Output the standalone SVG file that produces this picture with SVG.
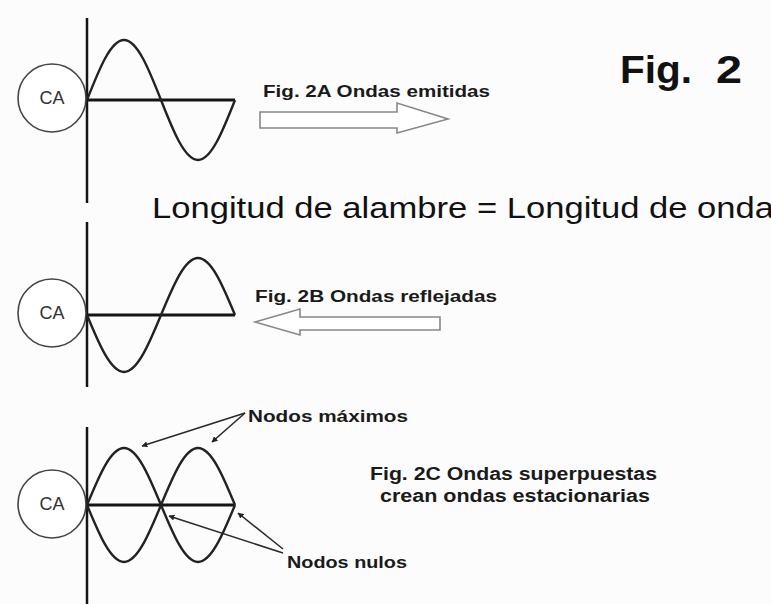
<svg xmlns="http://www.w3.org/2000/svg" width="771" height="604" viewBox="0 0 771 604">
<style>
.bg{fill:#fcfcfc}
.vline{stroke:#151515;stroke-width:2.5;fill:none}
.axis{stroke:#151515;stroke-width:3;fill:none}
.wave{stroke:#222;stroke-width:2.4;fill:none}
.src{fill:#fff;stroke:#444;stroke-width:1.6}
.ca{font-family:"Liberation Sans",Arial,sans-serif;font-size:18px;fill:#333;text-anchor:middle}
.lbl{font-family:"Liberation Sans",Arial,sans-serif;font-weight:bold;fill:#1a1a1a}
.big{font-family:"Liberation Sans",Arial,sans-serif;fill:#111}
.hollow{fill:#fff;stroke:#888;stroke-width:1.6}
.ptr{stroke:#2a2a2a;stroke-width:1.6;fill:none;marker-end:url(#ah)}
</style>
<defs>
<marker id="ah" viewBox="0 0 10 10" refX="9" refY="5" markerWidth="6" markerHeight="6" orient="auto" markerUnits="userSpaceOnUse">
<path d="M0,0 L10,5 L0,10 z" fill="#222"/>
</marker>
</defs>
<rect class="bg" x="0" y="0" width="771" height="604"/>

<g id="title">
<text class="big" x="620" y="83" font-size="38" font-weight="bold" textLength="72" lengthAdjust="spacingAndGlyphs">Fig.</text>
<text class="big" x="716" y="83" font-size="38" font-weight="bold" textLength="26" lengthAdjust="spacingAndGlyphs">2</text>
<text class="big" x="152" y="218" font-size="30" textLength="622" lengthAdjust="spacingAndGlyphs">Longitud de alambre = Longitud de onda</text>
</g>

<g id="panelA">
<line class="vline" x1="87" y1="18" x2="87" y2="203"/>
<circle class="src" cx="52" cy="98" r="34"/>
<text class="ca" x="52" y="104">CA</text>
<line class="axis" x1="87" y1="100" x2="235" y2="100"/>
<path class="wave" d="M87,100 C99.07,69.3 110.73,40 124,40 C137.27,40 148.93,69.3 161,100 C173.07,130.7 184.73,160 198,160 C211.27,160 222.93,130.7 235,100"/>
<polygon class="hollow" points="260,112 397,112 397,103 448,119 397,133 397,128 260,128"/>
<text class="lbl" x="263" y="97" font-size="16.5" textLength="227" lengthAdjust="spacingAndGlyphs">Fig. 2A Ondas emitidas</text>
</g>

<g id="panelB">
<line class="vline" x1="87" y1="222" x2="87" y2="387"/>
<circle class="src" cx="52" cy="313" r="34"/>
<text class="ca" x="52" y="319">CA</text>
<line class="axis" x1="87" y1="315" x2="235" y2="315"/>
<path class="wave" d="M87,315 C99.07,344.2 110.73,372 124,372 C137.27,372 148.93,344.2 161,315 C173.07,285.8 184.73,258 198,258 C211.27,258 222.93,285.8 235,315"/>
<polygon class="hollow" points="440,317 300,317 300,309 255,322 300,335 300,330 440,330"/>
<text class="lbl" x="255" y="302" font-size="16.5" textLength="242" lengthAdjust="spacingAndGlyphs">Fig. 2B Ondas reflejadas</text>
</g>

<g id="panelC">
<line class="vline" x1="87" y1="427" x2="87" y2="604"/>
<circle class="src" cx="52" cy="504" r="34"/>
<text class="ca" x="52" y="510">CA</text>
<line class="axis" x1="87" y1="505" x2="235" y2="505"/>
<path class="wave" d="M87,505 C99.07,475.8 110.73,448 124,448 C137.27,448 148.93,475.8 161,505 C173.07,534.2 184.73,562 198,562 C211.27,562 222.93,534.2 235,505"/>
<path class="wave" d="M87,505 C99.07,534.2 110.73,562 124,562 C137.27,562 148.93,534.2 161,505 C173.07,475.8 184.73,448 198,448 C211.27,448 222.93,475.8 235,505"/>
<text class="lbl" x="370" y="480" font-size="17.5" textLength="287" lengthAdjust="spacingAndGlyphs">Fig. 2C Ondas superpuestas</text>
<text class="lbl" x="380" y="502" font-size="17.5" textLength="270" lengthAdjust="spacingAndGlyphs">crean ondas estacionarias</text>
</g>

<g id="label-maximos">
<text class="lbl" x="248" y="422" font-size="16.5" textLength="160" lengthAdjust="spacingAndGlyphs">Nodos máximos</text>
</g>
<g id="label-nulos">
<text class="lbl" x="287" y="568" font-size="16.5" textLength="120" lengthAdjust="spacingAndGlyphs">Nodos nulos</text>
</g>

<g id="connectors">
<line class="ptr" x1="245" y1="413" x2="142" y2="446"/>
<line class="ptr" x1="245" y1="413" x2="212" y2="442"/>
<line class="ptr" x1="283" y1="553" x2="169" y2="516"/>
<line class="ptr" x1="283" y1="549" x2="238" y2="513"/>
</g>
</svg>
